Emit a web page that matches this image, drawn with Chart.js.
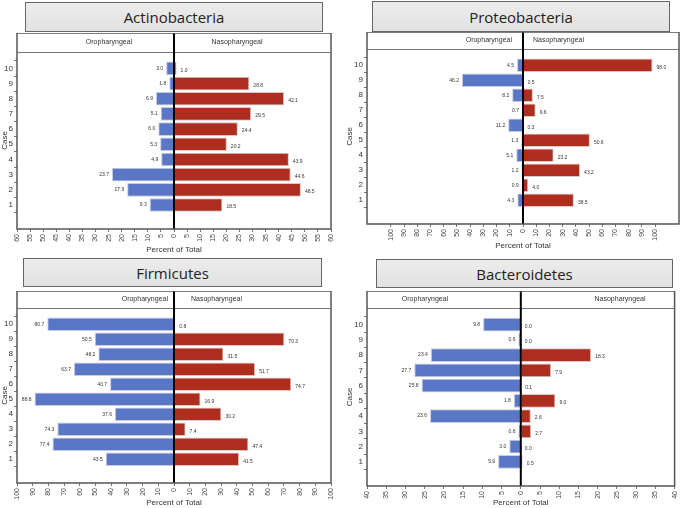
<!DOCTYPE html>
<html>
<head>
<meta charset="utf-8">
<script src="https://cdn.jsdelivr.net/npm/chart.js@4"></script>
<style>
  body { margin: 0; background: #fff; }
  #page { position: relative; width: 685px; height: 508px; overflow: hidden; }
  .title {
    position: absolute; box-sizing: border-box;
    background: linear-gradient(#ececec, #e2e2e2);
    border: 1.5px solid #666;
    display: flex; align-items: center; justify-content: center;
    font-family: "Open Sans", sans-serif; font-size: 15px; color: #222;
  }
  canvas { position: absolute; }
</style>
</head>
<body>
<div id="page"></div>
<script>
// --- DONNÉES (cas 1 -> 10) ---
const cases = [1, 2, 3, 4, 5, 6, 7, 8, 9, 10];

const actOro  = [9.3, 17.9, 23.7, 4.9, 5.3, 6.0, 5.1, 6.9, 1.8, 3.0];
const actNaso = [18.5, 48.5, 44.6, 43.9, 20.2, 24.4, 29.5, 42.1, 28.8, 1.0];

const proOro  = [4.3, 0.9, 1.2, 5.1, 1.3, 11.2, 0.7, 8.2, 46.2, 4.5];
const proNaso = [38.5, 4.0, 43.2, 23.2, 50.6, 0.3, 9.6, 7.5, 0.5, 98.0];

const firOro  = [43.5, 77.4, 74.3, 37.6, 88.8, 40.7, 63.7, 48.2, 50.5, 80.7];
const firNaso = [41.5, 47.4, 7.4, 30.2, 16.9, 74.7, 51.7, 31.5, 70.3, 0.8];

const bacOro  = [5.9, 3.0, 0.6, 23.6, 1.8, 25.8, 27.7, 23.4, 0.6, 9.8];
const bacNaso = [0.5, 0.0, 2.7, 2.6, 9.0, 0.1, 7.9, 18.3, 0.0, 0.0];

// tick labels de l'axe x
const ticks60  = [-60, -55, -50, -45, -40, -35, -30, -25, -20, -15, -10, -5, 0, 5, 10, 15, 20, 25, 30, 35, 40, 45, 50, 55, 60];
const ticks100 = [-100, -90, -80, -70, -60, -50, -40, -30, -20, -10, 0, 10, 20, 30, 40, 50, 60, 70, 80, 90, 100];
const ticks40  = [-40, -35, -30, -25, -20, -15, -10, -5, 0, 5, 10, 15, 20, 25, 30, 35, 40];

const BLUE = '#5a76c6';
const RED = '#ad2e1e';

// --- PANNEAUX ---
const panels = [
  { title: 'Actinobacteria', oro: actOro, naso: actNaso, ticks: ticks60, xmax: 60,
    box: { x: 25, y: 2, w: 298, h: 30 },
    canvas: { x: 0, y: 33, w: 345, h: 222 },
    frame: { left: 17, right: 331, strip: 52, bottom: 229 },
    oroLbl: { x: 109, align: 'center' }, nasoLbl: { x: 237, align: 'center' } },
  { title: 'Proteobacteria', oro: proOro, naso: proNaso, ticks: ticks100, xmax: 118,
    box: { x: 372, y: 1, w: 298, h: 31 },
    canvas: { x: 345, y: 32, w: 340, h: 219 },
    frame: { left: 367, right: 679, strip: 49, bottom: 224 },
    oroLbl: { x: 512, align: 'right' }, nasoLbl: { x: 533, align: 'left' } },
  { title: 'Firmicutes', oro: firOro, naso: firNaso, ticks: ticks100, xmax: 100,
    box: { x: 23, y: 258, w: 299, h: 29 },
    canvas: { x: 0, y: 291, w: 345, h: 217 },
    frame: { left: 17, right: 331, strip: 308, bottom: 483 },
    oroLbl: { x: 168, align: 'right' }, nasoLbl: { x: 191, align: 'left' } },
  { title: 'Bacteroidetes', oro: bacOro, naso: bacNaso, ticks: ticks40, xmax: 40,
    box: { x: 376, y: 259, w: 297, h: 29 },
    canvas: { x: 345, y: 291, w: 340, h: 217 },
    frame: { left: 367, right: 679, strip: 308, bottom: 486 },
    oroLbl: { x: 425, align: 'center' }, nasoLbl: { x: 620, align: 'center' } }
];

// Cadre, bandeau "Oropharyngeal / Nasopharyngeal", ligne du zéro, valeurs
const pyramidPlugin = {
  id: 'pyramid',
  afterDatasetsDraw(chart) {
    const p = chart.options.plugins.pyramid;
    const { ctx, chartArea: a } = chart;
    const stripTop = a.top - p.stripH;
    const x0 = chart.scales.x.getPixelForValue(0);

    // valeurs à côté des barres
    ctx.save();
    ctx.font = '5px "Liberation Sans", sans-serif';
    ctx.fillStyle = '#333';
    ctx.textBaseline = 'middle';
    chart.data.datasets.forEach((ds, i) => {
      chart.getDatasetMeta(i).data.forEach((bar, j) => {
        const v = Math.abs(ds.data[j].x).toFixed(1);
        if (ds.data[j].x < 0) {
          ctx.textAlign = 'right';
          ctx.fillText(v, bar.x - 3, bar.y);
        } else {
          ctx.textAlign = 'left';
          ctx.fillText(v, bar.x + 4, bar.y + 2);
        }
      });
    });

    // bandeau
    ctx.strokeStyle = '#777';
    ctx.lineWidth = 1;
    ctx.beginPath();
    ctx.moveTo(a.left, a.top + 0.5);
    ctx.lineTo(a.right, a.top + 0.5);
    ctx.stroke();
    ctx.font = '7px "Liberation Sans", sans-serif';
    ctx.fillStyle = '#333';
    ctx.textBaseline = 'middle';
    const off = p.canvasX;
    ctx.textAlign = p.oroLbl.align;
    ctx.fillText('Oropharyngeal', p.oroLbl.x - off, stripTop + p.stripH / 2);
    ctx.textAlign = p.nasoLbl.align;
    ctx.fillText('Nasopharyngeal', p.nasoLbl.x - off, stripTop + p.stripH / 2);

    // ligne du zéro
    ctx.strokeStyle = '#000';
    ctx.lineWidth = 2;
    ctx.beginPath();
    ctx.moveTo(x0, stripTop);
    ctx.lineTo(x0, a.bottom);
    ctx.stroke();

    // cadre
    ctx.strokeStyle = '#555';
    ctx.lineWidth = 1.5;
    ctx.strokeRect(a.left, stripTop, a.right - a.left, a.bottom - stripTop);
    ctx.restore();
  }
};

const page = document.getElementById('page');

panels.forEach(p => {
  const box = document.createElement('div');
  box.className = 'title';
  box.textContent = p.title;
  Object.assign(box.style, { left: p.box.x + 'px', top: p.box.y + 'px', width: p.box.w + 'px', height: p.box.h + 'px' });
  page.appendChild(box);

  const cv = document.createElement('canvas');
  cv.width = p.canvas.w;
  cv.height = p.canvas.h;
  cv.style.left = p.canvas.x + 'px';
  cv.style.top = p.canvas.y + 'px';
  page.appendChild(cv);

  // le canvas commence en haut du cadre : le bandeau occupe le padding du haut
  const stripH = p.frame.strip - p.canvas.y;
  const yWidth = p.frame.left - p.canvas.x;
  const xHeight = p.canvas.y + p.canvas.h - p.frame.bottom;
  const padRight = p.canvas.x + p.canvas.w - p.frame.right;

  new Chart(cv, {
    type: 'bar',
    data: {
      datasets: [
        { label: 'Oropharyngeal', data: cases.map((c, i) => ({ x: -p.oro[i], y: c })),
          backgroundColor: BLUE, borderColor: '#c9ccd6', borderWidth: 1 },
        { label: 'Nasopharyngeal', data: cases.map((c, i) => ({ x: p.naso[i], y: c })),
          backgroundColor: RED, borderColor: '#d6c9c6', borderWidth: 1 }
      ]
    },
    options: {
      indexAxis: 'y',
      responsive: false,
      devicePixelRatio: 1,
      animation: false,
      grouped: false,
      barPercentage: 0.9,
      categoryPercentage: 1,
      layout: { padding: { top: stripH, right: padRight, left: 0, bottom: 0 } },
      scales: {
        x: {
          type: 'linear', min: -p.xmax, max: p.xmax,
          afterBuildTicks: s => { s.ticks = p.ticks.map(v => ({ value: v })); },
          afterFit: s => { s.height = xHeight; },
          ticks: {
            autoSkip: false, minRotation: 90, maxRotation: 90, padding: 2,
            font: { family: 'Liberation Sans', size: 7 }, color: '#444',
            callback: v => Math.abs(v)
          },
          grid: { drawOnChartArea: false, tickLength: 3, color: '#777' },
          border: { display: false },
          title: { display: true, text: 'Percent of Total', padding: 0,
                   font: { family: 'Liberation Sans', size: 8 }, color: '#333' }
        },
        y: {
          type: 'linear', min: 0, max: 10.5,
          afterBuildTicks: s => { s.ticks = cases.map(v => ({ value: v })); },
          afterFit: s => { s.width = yWidth; },
          ticks: { padding: 1, font: { family: 'Liberation Sans', size: 8 }, color: '#333' },
          grid: { drawOnChartArea: false, tickLength: 3, color: '#777' },
          border: { display: false },
          title: { display: true, text: 'Case', padding: 0,
                   font: { family: 'Liberation Sans', size: 8 }, color: '#333' }
        }
      },
      plugins: {
        legend: { display: false },
        tooltip: { enabled: false },
        pyramid: { stripH: stripH, canvasX: p.canvas.x, oroLbl: p.oroLbl, nasoLbl: p.nasoLbl }
      }
    },
    plugins: [pyramidPlugin]
  });
});
</script>
</body>
</html>
